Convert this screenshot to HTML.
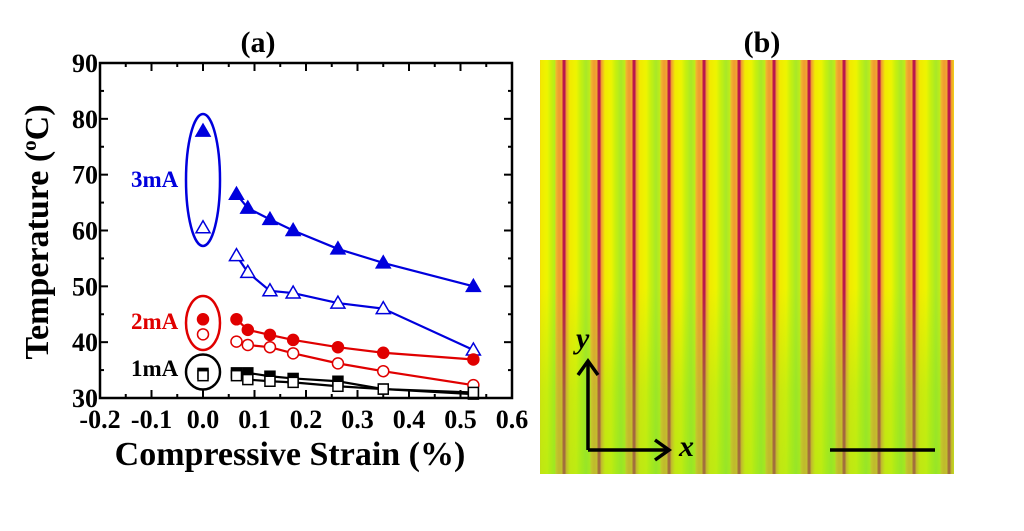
<!DOCTYPE html>
<html><head><meta charset="utf-8"><style>
body{margin:0;background:#fff;width:1024px;height:531px;overflow:hidden;position:relative;font-family:"Liberation Serif",serif}
#img{position:absolute;left:540px;top:60px;width:414px;height:414px;
background:
linear-gradient(to bottom,rgba(130,225,40,0) 0%,rgba(130,225,40,0) 55%,rgba(130,225,40,0.35) 80%,rgba(130,225,40,0.45) 100%),
repeating-linear-gradient(90deg,
#c8e818 0px,#f0b830 1px,#f09a30 4px,#f0a830 7px,#c01848 8px,#b51650 10px,#f09030 11px,#f0c020 13px,
#f2ea00 15px,#eef400 21px,#c4f010 26px,#a8e828 31px,#c0ec18 35px);
background-position:0 0,15px 0}
</style></head><body>
<svg id="chart" width="540" height="531" style="position:absolute;left:0;top:0"></svg>
<div id="img"></div>
<svg width="1024" height="531" style="position:absolute;left:0;top:0">
<text x="762" y="52" font-family="Liberation Serif" font-weight="bold" font-size="30" text-anchor="middle">(b)</text>
<g stroke="#000" stroke-width="3.5" fill="none">
<line x1="588" y1="450" x2="588" y2="362"/><polyline points="578,375 588,361 598,375"/>
<line x1="588" y1="450" x2="668" y2="450"/><polyline points="655,440 669,450 655,460"/>
</g>
<text x="576" y="348" font-family="Liberation Serif" font-style="italic" font-weight="bold" font-size="30">y</text>
<text x="679" y="456" font-family="Liberation Serif" font-style="italic" font-weight="bold" font-size="30">x</text>
<line x1="830" y1="450" x2="935" y2="450" stroke="#000" stroke-width="3.5"/>
</svg>
<script>
const strains=[0,0.065,0.087,0.13,0.175,0.262,0.35,0.525];
const t3Filled=[77.8,66.5,64,62,60,56.7,54.2,50];
const t3Open=[60.5,55.5,52.5,49.2,48.8,47,46,38.6];
const t2Filled=[44.1,44.1,42.2,41.3,40.4,39.1,38.1,36.9];
const t2Open=[41.4,40.1,39.5,39.1,38,36.2,34.8,32.3];
const t1Filled=[34.4,34.5,34.5,33.9,33.5,33,31.6,30.7];
const t1Open=[34,34,33.3,33,32.8,32.1,31.6,31];
const xTicks=[-0.2,-0.1,0.0,0.1,0.2,0.3,0.4,0.5,0.6];
const yTicks=[30,40,50,60,70,80,90];
const NS="http://www.w3.org/2000/svg";
const svg=document.getElementById('chart');
const L=100,R=512,T=63,B=398;
const X=v=>L+(v+0.2)/0.8*(R-L);
const Y=v=>B-(v-30)/60*(B-T);
function mk(tag,attrs,parent){const e=document.createElementNS(NS,tag);for(const k in attrs)e.setAttribute(k,attrs[k]);(parent||svg).appendChild(e);return e;}
let e;
e=mk('text',{x:258,y:52,'font-weight':'bold','font-size':30,'text-anchor':'middle','font-family':'Liberation Serif'});e.textContent='(a)';


for(let i=0;i<=16;i++){const v=-0.2+i*0.05;const x=X(v);const len=i%2==0?8:4;
mk('line',{x1:x,y1:B,x2:x,y2:B-len,stroke:'#000','stroke-width':2});
mk('line',{x1:x,y1:T,x2:x,y2:T+len,stroke:'#000','stroke-width':2});}
for(let i=0;i<=12;i++){const v=30+i*5;const y=Y(v);const len=i%2==0?8:4;
mk('line',{x1:L,y1:y,x2:L+len,y2:y,stroke:'#000','stroke-width':2});
mk('line',{x1:R,y1:y,x2:R-len,y2:y,stroke:'#000','stroke-width':2});}
e=mk('rect',{x:L,y:T,width:R-L,height:B-T,fill:'none',stroke:'#000','stroke-width':2.5});


xTicks.forEach(v=>{e=mk('text',{x:X(v),y:428,'font-weight':'bold','font-size':26,'text-anchor':'middle','font-family':'Liberation Serif'});e.textContent=v.toFixed(1);

});
yTicks.forEach(v=>{e=mk('text',{x:98,y:Y(v)+9,'font-weight':'bold','font-size':26,'text-anchor':'end','font-family':'Liberation Serif'});e.textContent=v;

});
e=mk('text',{x:290,y:465,'font-weight':'bold','font-size':34,'text-anchor':'middle','font-family':'Liberation Serif'});e.textContent='Compressive Strain (%)';


e=mk('text',{x:0,y:0,'font-weight':'bold','font-size':34,'text-anchor':'middle','font-family':'Liberation Serif',transform:'translate(48,232) rotate(-90)'});
e.innerHTML='Temperature (<tspan font-size="21" dy="-12">o</tspan><tspan dy="12">C)</tspan>';


const ells=[[180,17,66,'#0000dd'],[323,17,27,'#e00000'],[372,17,17.5,'#000']];
ells.forEach(a=>{e=mk('ellipse',{cx:X(0),cy:a[0],rx:a[1],ry:a[2],fill:'none',stroke:a[3],'stroke-width':2.5});

});
const labs=[['3mA',187,'#0000dd'],['2mA',329,'#e00000'],['1mA',376,'#000']];
labs.forEach(a=>{e=mk('text',{x:131,y:a[1],'font-weight':'bold','font-size':23,fill:a[2],'font-family':'Liberation Serif'});e.textContent=a[0];

});
function series(vals,color,shape,filled,name){
const g=mk('g',{});


const pts=strains.slice(1).map((s,i)=>X(s)+','+Y(vals[i+1])).join(' ');
mk('polyline',{points:pts,fill:'none',stroke:color,'stroke-width':2.2},g);
strains.forEach((s,i)=>{const x=X(s),y=Y(vals[i]);let m;
const st={fill:filled?color:'#fff',stroke:color,'stroke-width':1.5};
if(shape=='tri'){m=mk('polygon',Object.assign({points:`${x},${y-7} ${x-7},${y+5} ${x+7},${y+5}`},st),g);}
else if(shape=='circ'){m=mk('circle',Object.assign({cx:x,cy:y,r:5.5},st),g);}
else{m=mk('rect',Object.assign({x:x-5,y:y-5,width:10,height:10},st),g);}

});}
series(t3Filled,'#0000dd','tri',true,'series-3ma-filled');
series(t3Open,'#0000dd','tri',false,'series-3ma-open');
series(t2Filled,'#e00000','circ',true,'series-2ma-filled');
series(t2Open,'#e00000','circ',false,'series-2ma-open');
series(t1Filled,'#000','sq',true,'series-1ma-filled');
series(t1Open,'#000','sq',false,'series-1ma-open');
</script>
</body></html>
